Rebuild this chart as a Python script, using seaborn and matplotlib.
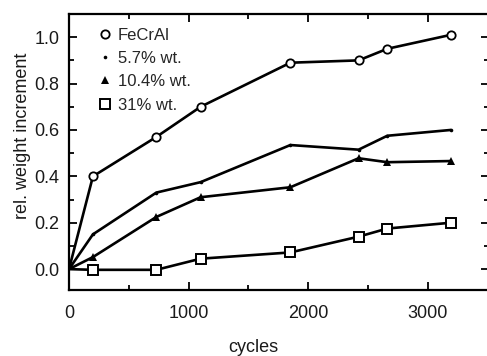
import matplotlib
matplotlib.use("Agg")
import matplotlib.pyplot as plt
from matplotlib.lines import Line2D
from matplotlib.ticker import MultipleLocator, FormatStrFormatter
import seaborn as sns
import pandas as pd

cycles = [0, 200, 730, 1100, 1850, 2420, 2660, 3190]
fecral = [0.0, 0.40, 0.57, 0.70, 0.89, 0.90, 0.95, 1.01]
wt_5_7 = [0.0, 0.15, 0.33, 0.375, 0.535, 0.515, 0.575, 0.60]
wt_10_4 = [0.0, 0.052, 0.225, 0.31, 0.353, 0.478, 0.461, 0.466]
wt_31 = [0.0, -0.003, -0.003, 0.045, 0.072, 0.14, 0.175, 0.20]
labels = ["FeCrAl", "5.7% wt.", "10.4% wt.", "31% wt."]

sns.set_theme(style="ticks")
plt.rcParams["font.family"] = ["Liberation Sans", "DejaVu Sans"]

W, H = 487, 356
fig = plt.figure(figsize=(W / 100, H / 100), dpi=100)
ax = fig.add_axes([69 / W, 1 - 290 / H, (489 - 69) / W, (290 - 14) / H])

series = [fecral, wt_5_7, wt_10_4, wt_31]
styles = [
    dict(marker="o", markersize=6, markerfacecolor="white", markeredgewidth=1.3),
    dict(marker="o", markersize=2.6, markerfacecolor="black", markeredgewidth=0),
    dict(marker="^", markersize=5.5, markerfacecolor="black", markeredgewidth=0),
    dict(marker="s", markersize=7, markerfacecolor="white", markeredgewidth=1.4),
]
handles = []
for vals, lab, st in zip(series, labels, styles):
    df = pd.DataFrame({"cycles": cycles, "w": vals})
    sns.lineplot(data=df, x="cycles", y="w", sort=False, ax=ax, color="black",
                 linewidth=1.9, markeredgecolor="black", **st)
    handles.append(Line2D([], [], linestyle="none", color="black",
                          markeredgecolor="black", label=lab, **st))

# curves start at the origin without a symbol
for line in ax.lines:
    line.set_markevery(list(range(1, len(cycles))))

ax.set_xlim(0, 3510)
ax.set_ylim(-0.09, 1.1)
ax.xaxis.set_major_locator(MultipleLocator(1000))
ax.xaxis.set_minor_locator(MultipleLocator(500))
ax.yaxis.set_major_locator(MultipleLocator(0.2))
ax.yaxis.set_minor_locator(MultipleLocator(0.1))
ax.yaxis.set_major_formatter(FormatStrFormatter("%.1f"))
ax.tick_params(which="both", direction="in", top=True, right=True,
               labeltop=False, labelright=False, color="black", width=1.3)
ax.tick_params(which="major", length=6, labelsize=13, labelcolor="#1a1a1a")
ax.tick_params(which="minor", length=3.5)
ax.tick_params(axis="x", which="major", pad=11)
ax.tick_params(axis="y", which="major", pad=7)
for sp in ax.spines.values():
    sp.set_visible(True)
    sp.set_linewidth(1.6)
    sp.set_color("black")

ax.set_xlabel("cycles", fontsize=13, color="#1a1a1a", va="center")
ax.xaxis.set_label_coords(0.438, -0.21)
ax.set_ylabel("rel. weight increment", fontsize=13, color="#1a1a1a", va="center")
ax.yaxis.set_label_coords(-0.11, 0.56)

ax.legend(handles=handles, loc="upper left", frameon=False, fontsize=12,
          handlelength=0.8, handletextpad=0.35, labelspacing=0.5,
          borderaxespad=0.0, bbox_to_anchor=(0.054, 0.975))

fig.savefig("out.png", dpi=100)
